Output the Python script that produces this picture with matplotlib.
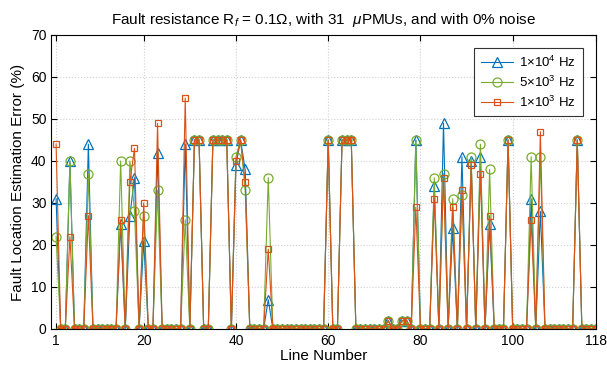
import numpy as np
import matplotlib
matplotlib.use('Agg')
import matplotlib.pyplot as plt

plt.rcParams['font.family'] = ['Liberation Sans', 'DejaVu Sans']
plt.rcParams['mathtext.fontset'] = 'custom'
plt.rcParams['mathtext.rm'] = 'Liberation Sans'
plt.rcParams['mathtext.it'] = 'Liberation Sans:italic'

# lines with a nonzero error, every other line is 0
peak_lines = [1, 4, 8, 15, 17, 18, 20, 23, 29, 31, 32, 35, 36, 37, 38, 40, 41, 42, 47,
              60, 63, 64, 65, 73, 76, 77, 79, 83, 85, 87, 89, 91, 93, 95, 99, 104, 106, 114]
err_1e4 = [31, 40, 44, 25, 27, 36, 21, 42, 44, 45, 45, 45, 45, 45, 45, 39, 45, 38, 7,
           45, 45, 45, 45, 2, 2, 2, 45, 34, 49, 24, 41, 40, 41, 25, 45, 31, 28, 45]
err_5e3 = [22, 40, 37, 40, 40, 28, 27, 33, 26, 45, 45, 45, 45, 45, 45, 41, 45, 33, 36,
           45, 45, 45, 45, 2, 2, 2, 45, 36, 37, 31, 32, 41, 44, 38, 45, 41, 41, 45]
err_1e3 = [44, 22, 27, 26, 35, 43, 30, 49, 55, 45, 45, 45, 45, 45, 45, 40, 45, 35, 19,
           45, 45, 45, 45, 2, 2, 2, 29, 31, 36, 29, 33, 39, 37, 27, 45, 26, 47, 45]
labels = [r'1$\times$10$^4$ Hz', r'5$\times$10$^3$ Hz', r'1$\times$10$^3$ Hz']

lines = np.arange(1, 119)


def full(vals):
    y = np.zeros(len(lines))
    for n, v in zip(peak_lines, vals):
        y[n - 1] = v
    return y


fig = plt.figure(figsize=(6.07, 3.75), dpi=100)
ax = fig.add_axes([0.0848, 0.1227, 0.8966, 0.784])

ax.plot(lines, full(err_1e4), color='#0072BD', lw=0.8, marker='^', ms=7,
        mfc='none', mew=0.9, label=labels[0])
ax.plot(lines, full(err_5e3), color='#77AC30', lw=0.8, marker='o', ms=6.5,
        mfc='none', mew=0.9, label=labels[1])
ax.plot(lines, full(err_1e3), color='#D95319', lw=0.8, marker='s', ms=4.5,
        mfc='none', mew=0.9, label=labels[2])

ax.set_xlim(0, 118)
ax.set_ylim(0, 70)
ax.set_xticks([1, 20, 40, 60, 80, 100, 118])
ax.set_yticks(np.arange(0, 71, 10))
ax.grid(True, ls=':', color='#d0d0d0', lw=0.8)
ax.tick_params(direction='in', top=True, right=True, labelsize=10, length=4)
for s in ax.spines.values():
    s.set_linewidth(0.8)
ax.set_xlabel('Line Number', fontsize=11, labelpad=1)
ax.set_ylabel('Fault Location Estimation Error (%)', fontsize=11)
ax.set_title(r'Fault resistance R$_f$ = 0.1$\Omega$, with 31  $\mu$PMUs, and with 0% noise',
             fontsize=11, pad=8)
leg = ax.legend(loc='upper right', fontsize=9.5, fancybox=False, edgecolor='#333333',
                framealpha=1, handlelength=2.4, borderpad=0.5, labelspacing=0.35,
                handletextpad=0.5, borderaxespad=1.0)
leg.get_frame().set_linewidth(0.8)

fig.savefig('out.png', dpi=100)
